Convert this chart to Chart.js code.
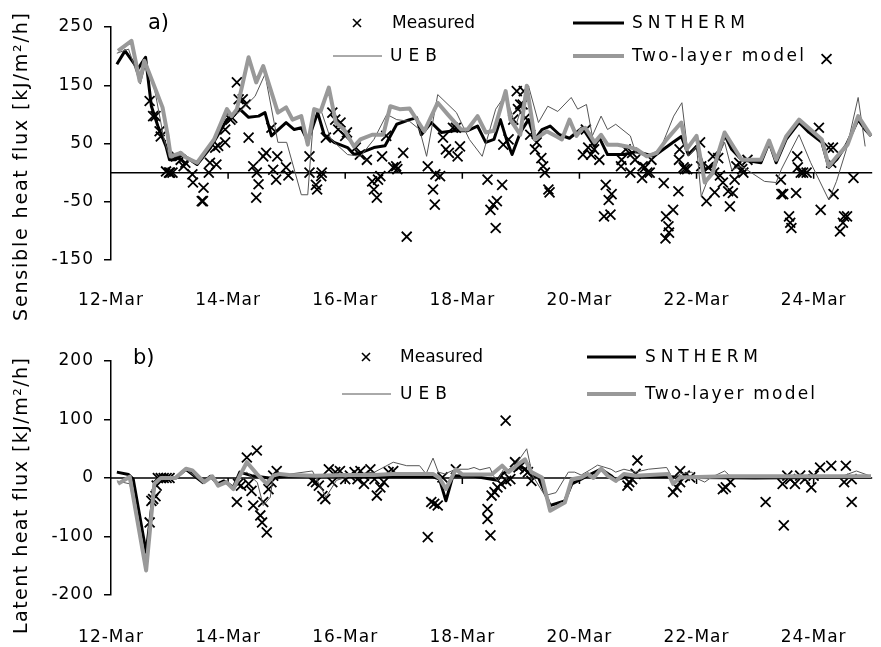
<!DOCTYPE html>
<html>
<head>
<meta charset="utf-8">
<script src="https://cdn.jsdelivr.net/npm/chart.js@4.4.1/dist/chart.umd.min.js"></script>
<style>
  html, body { margin: 0; padding: 0; background: #fff; }
  #wrap { position: relative; width: 881px; height: 647px; }
  canvas { position: absolute; left: 0; }
</style>
</head>
<body>
<div id="wrap">
  <canvas id="sensible" width="881" height="323" style="top:0px"></canvas>
  <canvas id="latent" width="881" height="324" style="top:323px"></canvas>
</div>
<script>
// x values are days after 12-Mar 00:00
const tickLabels = ["12-Mar", "14-Mar", "16-Mar", "18-Mar", "20-Mar", "22-Mar", "24-Mar"];

// ---- a) sensible heat flux ----
const sensMeasDay = [0.66,0.72,0.76,0.83,0.85,0.94,0.99,1.01,1.05,1.11,1.19,1.24,1.27,1.39,1.40,1.55,1.57,1.58,1.67,1.69,1.78,1.80,1.83,1.95,1.95,2.04,2.07,2.15,2.18,2.25,2.30,2.35,2.43,2.49,2.48,2.52,2.60,2.65,2.74,2.77,2.82,2.84,2.99,3.03,3.39,3.39,3.50,3.52,3.59,3.60,3.67,3.78,3.83,3.88,3.92,4.00,4.03,4.18,4.25,4.37,4.46,4.49,4.54,4.56,4.60,4.63,4.70,4.82,4.87,4.89,4.99,5.05,5.41,5.50,5.53,5.54,5.62,5.67,5.72,5.77,5.84,5.89,5.92,5.96,6.43,6.48,6.53,6.57,6.59,6.68,6.70,6.79,6.87,6.93,6.95,6.99,7.03,7.05,7.08,7.16,7.24,7.27,7.35,7.38,7.41,7.47,7.49,8.06,8.11,8.15,8.20,8.25,8.34,8.42,8.45,8.50,8.53,8.55,8.71,8.72,8.79,8.87,8.90,8.95,9.07,9.08,9.12,9.16,9.20,9.23,9.44,9.47,9.48,9.52,9.53,9.60,9.69,9.70,9.71,9.78,9.80,9.84,10.06,10.08,10.17,10.20,10.28,10.30,10.31,10.37,10.40,10.45,10.54,10.57,10.62,10.65,10.68,10.73,10.78,10.80,10.87,11.44,11.45,11.48,11.58,11.60,11.62,11.70,11.72,11.73,11.78,11.82,11.88,12.09,12.12,12.22,12.26,12.30,12.33,12.34,12.45,12.50,12.52,12.57,12.68];
const sensMeasVal = [123,97,97,71,62,2,0,0,0,28,22,11,17,-3,-17,-49,-49,-26,0,17,43,14,46,52,74,91,94,155,126,126,117,60,11,0,-43,-20,28,34,77,5,-12,28,9,-5,28,0,-21,-29,-6,0,60,103,91,74,86,63,69,43,31,22,-15,-29,-43,-12,-6,28,63,9,11,6,34,-110,11,-29,-55,-3,-6,60,40,34,77,77,28,45,-12,-64,-55,-95,-49,-21,48,57,91,140,109,117,117,140,94,65,40,52,25,11,0,-29,-34,31,74,43,31,40,22,-75,-21,-47,-72,-37,11,22,40,0,34,22,-9,11,9,0,0,22,-18,-113,-75,-92,-103,-64,-32,22,40,9,6,6,52,11,-49,9,28,0,-34,25,-5,-17,-32,-58,-35,-12,11,17,6,0,22,-12,-37,-37,-75,-86,-95,-35,28,9,0,0,0,77,-64,195,43,17,43,-37,-101,-86,-75,-75,-9];

const sensSnthermDay = [0.10,0.24,0.46,0.59,0.69,0.80,0.94,1.00,1.10,1.22,1.47,1.70,1.98,2.04,2.20,2.35,2.52,2.63,2.74,2.99,3.13,3.25,3.36,3.53,3.64,3.81,4.04,4.15,4.26,4.49,4.68,4.88,5.10,5.22,5.30,5.47,5.64,5.86,6.09,6.26,6.40,6.54,6.65,6.77,6.85,6.99,7.13,7.24,7.36,7.50,7.66,7.83,8.05,8.26,8.34,8.48,8.76,8.98,9.27,9.60,9.74,9.86,10.00,10.14,10.32,10.48,10.60,10.77,11.10,11.24,11.36,11.53,11.75,11.92,12.14,12.26,12.39,12.56,12.76,12.88,12.98];
const sensSnthermVal = [186,209,178,198,114,80,45,22,22,31,14,43,91,95,109,95,97,103,63,86,74,77,54,103,65,52,43,31,34,43,46,83,91,94,65,86,69,72,72,80,52,57,91,52,31,69,91,57,74,80,65,59,77,45,60,31,31,36,28,52,62,31,45,5,14,65,40,22,17,52,17,57,86,69,52,9,22,48,91,74,63];

const sensUebDay = [0.10,0.30,0.50,0.60,0.75,0.90,1.00,1.20,1.47,1.76,1.98,2.18,2.46,2.63,2.85,3.00,3.25,3.36,3.47,3.60,3.75,4.04,4.26,4.49,4.71,4.88,5.10,5.27,5.39,5.58,5.90,6.12,6.34,6.57,6.74,6.91,7.13,7.30,7.46,7.63,7.86,7.97,8.12,8.22,8.37,8.48,8.62,8.87,8.96,9.15,9.38,9.61,9.75,9.86,10.00,10.08,10.20,10.32,10.48,10.60,10.77,11.16,11.36,11.45,11.75,11.95,12.26,12.39,12.56,12.76,12.88];
const sensUebVal = [205,212,152,189,140,60,25,30,17,55,100,103,131,169,52,52,-38,-38,109,103,58,31,28,57,100,91,88,74,28,134,103,57,28,109,134,80,149,86,114,105,129,109,117,63,97,74,83,63,34,28,40,97,120,28,45,-41,-10,17,52,5,11,-15,-17,6,65,17,-47,-15,40,129,45];

const sensTwoDay = [0.12,0.35,0.49,0.57,0.88,0.97,1.02,1.19,1.28,1.47,1.76,1.98,2.06,2.15,2.35,2.48,2.60,2.85,2.99,3.10,3.25,3.36,3.47,3.58,3.72,3.84,3.98,4.15,4.26,4.46,4.65,4.77,4.93,5.10,5.35,5.58,5.75,5.98,6.09,6.26,6.40,6.54,6.74,6.82,6.99,7.10,7.24,7.44,7.61,7.70,7.83,7.95,8.03,8.10,8.26,8.37,8.48,8.65,8.81,8.98,9.15,9.32,9.49,9.74,9.83,10.00,10.14,10.28,10.32,10.48,10.77,11.10,11.24,11.36,11.53,11.75,12.14,12.26,12.40,12.58,12.76,12.98];
const sensTwoVal = [209,226,157,192,112,63,28,34,26,17,57,109,97,109,198,155,183,103,112,91,97,48,109,105,146,86,74,45,57,65,65,114,109,110,71,120,100,74,74,97,69,72,140,91,65,149,57,71,62,57,91,63,74,77,52,65,48,48,45,40,28,34,57,86,40,63,-17,0,17,69,22,22,55,22,62,91,57,11,28,48,97,63];

// ---- b) latent heat flux ----
const latMeasDay = [0.66,0.69,0.72,0.76,0.78,0.80,0.85,0.90,0.95,1.00,2.15,2.17,2.22,2.32,2.35,2.40,2.43,2.49,2.55,2.58,2.60,2.66,2.69,2.74,2.77,2.83,3.44,3.50,3.55,3.61,3.66,3.72,3.78,3.83,3.91,4.00,4.08,4.16,4.21,4.26,4.32,4.32,4.43,4.50,4.54,4.60,4.66,4.74,4.82,5.41,5.47,5.52,5.58,5.66,5.89,6.43,6.43,6.48,6.50,6.55,6.60,6.66,6.74,6.75,6.82,6.90,6.96,7.00,7.07,7.12,7.18,8.82,8.85,8.90,8.96,8.99,9.60,9.66,9.72,9.72,9.80,9.89,10.45,10.50,10.58,11.18,11.47,11.49,11.55,11.60,11.68,11.77,11.85,11.96,12.00,12.11,12.30,12.52,12.55,12.65,12.65];
const latMeasVal = [-76,-39,-36,-31,-13,0,0,0,0,0,-41,-10,-13,35,-10,-22,-47,47,-64,-76,-41,-93,-19,-7,4,12,-5,-7,-13,-31,-36,15,-7,10,12,-2,4,10,-2,12,4,-10,15,-2,-30,-16,-7,10,12,-101,-41,-44,-47,1,15,-53,-70,-98,-30,-24,-16,-10,98,-5,-2,27,18,21,15,10,-5,-13,-7,-2,7,30,-24,-16,-7,12,4,1,-19,-16,-7,-41,-10,-81,4,-2,-10,4,-2,-16,4,18,21,-7,21,-41,-2];

const latSnthermDay = [0.10,0.30,0.38,0.60,0.74,0.83,1.10,1.28,1.57,1.70,1.82,1.93,2.09,2.20,2.40,2.70,3.00,3.50,4.00,4.50,5.00,5.50,5.61,5.72,5.84,6.20,6.60,6.68,6.96,7.07,7.18,7.30,7.50,7.75,7.87,8.03,8.14,8.37,8.54,8.62,8.80,9.50,10.00,11.00,12.00,12.98];
const latSnthermVal = [10,6,-2,-127,-13,0,0,15,-8,3,-10,-5,-16,10,4,0,3,3,3,2,2,2,-2,-39,4,3,-4,7,21,15,4,1,-47,-39,-10,-2,4,15,4,-3,2,2,1,0,1,1];

const latUebDay = [0.10,0.32,0.60,0.74,0.85,1.10,1.28,1.57,1.73,1.83,1.97,2.09,2.20,2.32,2.50,2.60,2.72,2.77,3.00,3.44,3.67,3.85,4.20,4.50,4.82,5.05,5.27,5.38,5.50,5.59,5.70,5.89,6.10,6.20,6.30,6.47,6.53,6.60,6.72,6.82,7.10,7.20,7.41,7.60,7.81,7.92,8.03,8.20,8.31,8.54,8.62,8.76,8.96,9.18,9.49,9.60,9.72,9.92,10.03,10.14,10.25,10.48,10.60,11.00,12.46,12.73,12.95];
const latUebVal = [-5,-10,-140,-10,0,0,15,-8,3,-12,-6,-17,6,10,-8,-47,-33,4,6,12,-33,-4,7,10,27,21,21,7,34,10,7,15,15,18,14,18,4,-5,18,10,50,4,-30,-25,10,10,5,15,22,15,10,15,10,15,18,-2,7,10,-2,-7,1,12,1,3,2,12,4];

const latTwoDay = [0.12,0.32,0.60,0.74,0.85,1.10,1.28,1.39,1.59,1.73,1.83,1.97,2.09,2.20,2.32,2.49,2.66,2.77,2.88,3.04,3.50,4.00,4.50,4.80,5.50,5.61,5.72,5.89,6.00,6.50,6.68,6.79,6.96,7.07,7.18,7.36,7.50,7.75,7.87,8.03,8.14,8.24,8.37,8.48,8.62,8.76,8.96,9.52,9.60,9.72,10.50,12.98];
const latTwoVal = [-10,2,-158,-10,0,0,16,13,-7,3,-13,-7,-19,4,27,7,-10,4,7,5,4,5,5,7,7,0,-19,15,6,6,21,10,24,32,10,1,-56,-42,-2,1,7,0,16,4,-5,7,4,7,-10,1,3,3];

const pts = (days, vals) => days.map((d, i) => ({ x: d, y: vals[i] }));

Chart.defaults.font.family = "'DejaVu Sans', sans-serif";
Chart.defaults.font.size = 17;
Chart.defaults.color = "#000";

function buildDatasets(measD, measV, snD, snV, uebD, uebV, twoD, twoV) {
  // first dataset is drawn on top
  return [
    { label: "Two-layer model", data: pts(twoD, twoV), borderColor: "#999999", borderWidth: 4, pointRadius: 0, borderJoinStyle: "round" },
    { label: "UEB", data: pts(uebD, uebV), borderColor: "#555555", borderWidth: 1, pointRadius: 0 },
    { label: "SNTHERM", data: pts(snD, snV), borderColor: "#000000", borderWidth: 3, pointRadius: 0, borderJoinStyle: "round" },
    { label: "Measured", data: pts(measD, measV), showLine: false, pointStyle: "crossRot", pointRadius: 7, pointBorderWidth: 1.8, borderColor: "#000", backgroundColor: "#000" }
  ];
}

// zero line with small tick marks every two days
const zeroLine = {
  id: "zeroLine",
  beforeDatasetsDraw(chart) {
    const { ctx, chartArea, scales } = chart;
    const y0 = scales.y.getPixelForValue(0);
    ctx.save();
    ctx.strokeStyle = "#000";
    ctx.lineWidth = 1.5;
    ctx.beginPath();
    ctx.moveTo(chartArea.left, y0);
    ctx.lineTo(chartArea.right, y0);
    for (let d = 2; d <= 12; d += 2) {
      const x = scales.x.getPixelForValue(d);
      ctx.moveTo(x, y0);
      ctx.lineTo(x, y0 + 6);
    }
    ctx.stroke();
    ctx.restore();
  }
};

const spacing = {
  id: "spacing",
  beforeDraw(chart) { chart.ctx.letterSpacing = "1px"; },
  afterDraw(chart) { chart.ctx.letterSpacing = "0px"; }
};

// draws text starting at x, stretched to the given width
function spacedText(ctx, text, x, y, width) {
  ctx.letterSpacing = "0px";
  const natural = ctx.measureText(text).width;
  const sp = text.length > 1 ? Math.max(0, (width - natural) / (text.length - 1)) : 0;
  ctx.letterSpacing = sp + "px";
  ctx.fillText(text, x, y);
  ctx.letterSpacing = "0px";
}

function decorations(cfg) {
  return {
    id: "decorations",
    afterDraw(chart) {
      const ctx = chart.ctx;
      const ds = chart.data.datasets;
      ctx.save();
      ctx.fillStyle = "#000";
      ctx.textBaseline = "middle";
      ctx.textAlign = "left";
      // panel letter
      ctx.font = "21px 'DejaVu Sans'";
      ctx.fillText(cfg.panel, cfg.panelX, cfg.panelY);
      // y title
      ctx.save();
      ctx.translate(22, cfg.titleY);
      ctx.rotate(-Math.PI / 2);
      ctx.font = "19px 'DejaVu Sans'";
      spacedText(ctx, cfg.title, -cfg.titleW / 2, 0, cfg.titleW);
      ctx.restore();
      // legend
      ctx.font = "17px 'DejaVu Sans'";
      cfg.legend.forEach(it => {
        const d = ds.find(s => s.label === it.label);
        if (it.cross) {
          ctx.strokeStyle = "#000";
          ctx.lineWidth = 1.6;
          ctx.beginPath();
          ctx.moveTo(it.x0 - 4, it.y - 4); ctx.lineTo(it.x0 + 4, it.y + 4);
          ctx.moveTo(it.x0 + 4, it.y - 4); ctx.lineTo(it.x0 - 4, it.y + 4);
          ctx.stroke();
        } else {
          ctx.strokeStyle = d.borderColor;
          ctx.lineWidth = d.borderWidth;
          ctx.beginPath();
          ctx.moveTo(it.x0, it.y); ctx.lineTo(it.x1, it.y);
          ctx.stroke();
        }
        spacedText(ctx, it.label, it.tx, it.y + 1, it.tw);
      });
      ctx.restore();
    }
  };
}

function makeChart(id, datasets, yMin, yMax, pad, xHeight, xPad, cfg) {
  return new Chart(document.getElementById(id), {
    type: "line",
    data: { datasets },
    options: {
      responsive: false,
      animation: false,
      devicePixelRatio: 1,
      layout: { padding: { left: 0, right: 0, top: pad, bottom: 0 } },
      scales: {
        x: {
          type: "linear", min: 0, max: 13,
          grid: { display: false, drawTicks: false },
          border: { display: false },
          ticks: {
            stepSize: 2, includeBounds: false, autoSkip: false, maxRotation: 0,
            padding: xPad,
            callback: v => tickLabels[v / 2] || ""
          },
          afterFit: s => { s.height = xHeight; }
        },
        y: {
          min: yMin, max: yMax,
          grid: { drawOnChartArea: false, drawTicks: true, tickLength: 7, color: "#000", lineWidth: 1.5 },
          border: { display: true, color: "#000", width: 1.5 },
          ticks: { stepSize: 100, padding: 10 },
          afterFit: s => { s.width = 111; }
        }
      },
      plugins: { legend: { display: false }, tooltip: { enabled: false } }
    },
    plugins: [spacing, zeroLine, decorations(cfg)]
  });
}

makeChart("sensible",
  buildDatasets(sensMeasDay, sensMeasVal, sensSnthermDay, sensSnthermVal, sensUebDay, sensUebVal, sensTwoDay, sensTwoVal),
  -150, 250, 27, 63, 30,
  {
    panel: "a)", panelX: 148, panelY: 24,
    title: "Sensible heat flux [kJ/m\u00b2/h]", titleY: 167, titleW: 308,
    legend: [
      { label: "Measured", cross: true, x0: 357, y: 23, tx: 392, tw: 78 },
      { label: "SNTHERM", x0: 573, x1: 624, y: 23, tx: 632, tw: 113 },
      { label: "UEB", x0: 333, x1: 382, y: 56, tx: 390, tw: 47 },
      { label: "Two-layer model", x0: 573, x1: 624, y: 56, tx: 632, tw: 172 }
    ]
  });

makeChart("latent",
  buildDatasets(latMeasDay, latMeasVal, latSnthermDay, latSnthermVal, latUebDay, latUebVal, latTwoDay, latTwoVal),
  -200, 200, 38, 52, 32,
  {
    panel: "b)", panelX: 133, panelY: 36,
    title: "Latent heat flux [kJ/m\u00b2/h]", titleY: 173, titleW: 276,
    legend: [
      { label: "Measured", cross: true, x0: 366, y: 34, tx: 400, tw: 78 },
      { label: "SNTHERM", x0: 587, x1: 636, y: 34, tx: 645, tw: 113 },
      { label: "UEB", x0: 342, x1: 391, y: 71, tx: 400, tw: 47 },
      { label: "Two-layer model", x0: 587, x1: 636, y: 71, tx: 645, tw: 170 }
    ]
  });
</script>
</body>
</html>
